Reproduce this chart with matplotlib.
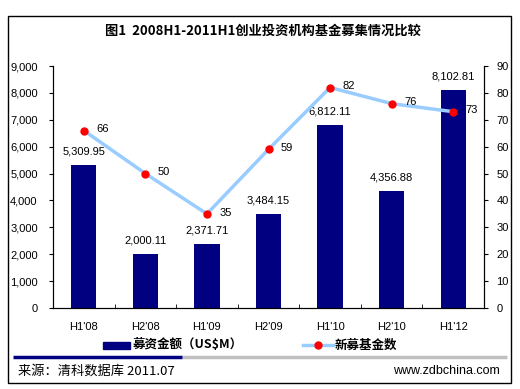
import matplotlib
matplotlib.use("Agg")
import matplotlib.pyplot as plt
from matplotlib.patches import Rectangle
from matplotlib.lines import Line2D
import numpy as np

plt.rcParams['font.family'] = ['Liberation Sans', 'Noto Sans CJK SC', 'DejaVu Sans']

# === Data ===
periods = ["H1'08", "H2'08", "H1'09", "H2'09", "H1'10", "H2'10", "H1'12"]
amount = [5309.95, 2000.11, 2371.71, 3484.15, 6812.11, 4356.88, 8102.81]
fund_count = [66, 50, 35, 59, 82, 76, 73]

title = "图1  2008H1-2011H1创业投资机构基金募集情况比较"
bar_label = "募资金额（US$M）"
line_label = "新募基金数"
source = "来源：清科数据库 2011.07"
site = "www.zdbchina.com"

NAVY = "#000080"
LIGHT = "#99CCFF"
CJK = ['Noto Sans CJK SC', 'DejaVu Sans']

fig = plt.figure(figsize=(5.2, 3.89), dpi=100)
W, H = 520, 389

def fx(px):
    return px / W

def fy(py):
    return 1 - py / H

# outer frame
fig.patches.append(Rectangle((fx(8), fy(383)), fx(503), 367 / H, transform=fig.transFigure,
                             fill=False, edgecolor="black", linewidth=1.0))

ax = fig.add_axes([fx(53), fy(308), fx(484 - 53), (308 - 66) / H])
ax2 = ax.twinx()

x = np.arange(len(periods))
ax.bar(x, amount, width=0.41, color=NAVY, zorder=2)
ax.set_ylim(0, 9000)
ax.set_xlim(-0.5, len(periods) - 0.5)
ax.set_yticks(np.arange(0, 9001, 1000))
ax.set_yticklabels([f"{v:,}" for v in range(0, 9001, 1000)], fontsize=8)
ax.set_xticks(x)
ax.set_xticklabels(periods, fontsize=8)
ax.tick_params(axis="x", length=0, pad=10)
ax.set_xticks(np.arange(-0.5, len(periods), 1), minor=True)
ax.tick_params(axis="x", which="minor", length=3, direction="in")
ax.tick_params(axis="y", length=3, direction="out", pad=8)
ax.spines["top"].set_visible(False)
for v, a in zip(x, amount):
    ax.annotate(f"{a:,.2f}", (v, a), xytext=(0, 6), textcoords="offset points",
                ha="center", va="bottom", fontsize=8)

ax2.plot(x, fund_count, color=LIGHT, linewidth=2.5, marker="o", markersize=5,
         markerfacecolor="red", markeredgecolor="red", zorder=3)
ax2.set_ylim(0, 90)
ax2.set_yticks(np.arange(0, 91, 10))
ax2.set_yticklabels([str(v) for v in range(0, 91, 10)], fontsize=8)
ax2.tick_params(axis="y", length=3, direction="out", pad=6)
ax2.spines["top"].set_visible(False)
for v, c in zip(x, fund_count):
    ax2.annotate(str(c), (v, c), xytext=(9, 1), textcoords="offset points",
                 ha="left", va="center", fontsize=8)

# title
fig.text(fx(263), fy(31), title, ha="center", va="center", fontsize=9.5,
         fontweight="bold", family=CJK)

# legend
fig.patches.append(Rectangle((fx(103), fy(349)), fx(27), 7 / H, transform=fig.transFigure,
                             color=NAVY))
fig.text(fx(133), fy(345), bar_label, ha="left", va="center", fontsize=9,
         fontweight="bold", family=CJK)
fig.lines.append(Line2D([fx(303), fx(333)], [fy(345), fy(345)], transform=fig.transFigure,
                        color=LIGHT, linewidth=2.5))
fig.lines.append(Line2D([fx(318)], [fy(345)], transform=fig.transFigure, marker="o",
                        markersize=5, color="red"))
fig.text(fx(335), fy(345), line_label, ha="left", va="center", fontsize=9,
         fontweight="bold", family=CJK)

# separator bar
fig.lines.append(Line2D([fx(182), fx(507)], [fy(357), fy(357)], transform=fig.transFigure,
                        color="#C0C0C0", linewidth=2.5, solid_capstyle="butt"))
fig.lines.append(Line2D([fx(13), fx(182)], [fy(357), fy(357)], transform=fig.transFigure,
                        color=NAVY, linewidth=2.5, solid_capstyle="butt"))

# footer
fig.text(fx(18), fy(371), source, ha="left", va="center", fontsize=9.5, family=CJK)
fig.text(fx(500), fy(371), site, ha="right", va="center", fontsize=9)

fig.savefig("out.png", dpi=100)
